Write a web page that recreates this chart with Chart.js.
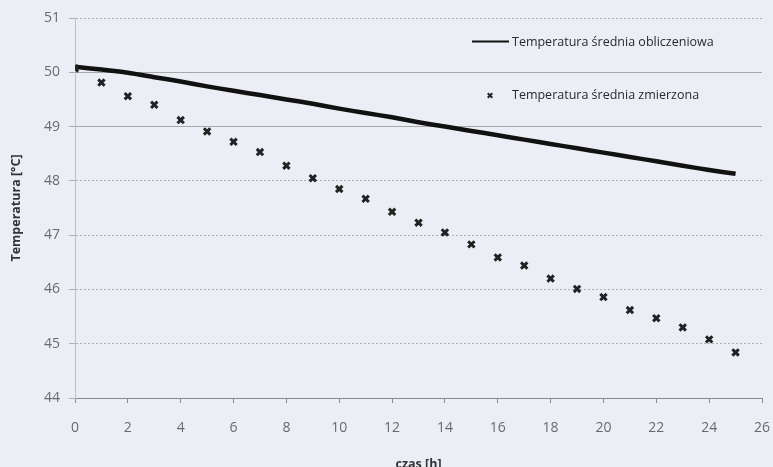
<!DOCTYPE html>
<html><head><meta charset="utf-8">
<script src="https://cdn.jsdelivr.net/npm/chart.js@4"></script>
<style>html,body{margin:0;padding:0;background:#eceef5}#wrap{width:773px;height:467px;position:relative}</style>
</head><body><div id="wrap"><canvas id="c" width="773" height="467"></canvas></div>
<script>
const hours = [0,1,2,3,4,5,6,7,8,9,10,11,12,13,14,15,16,17,18,19,20,21,22,23,24,25];
const calcTemp = [50.10,50.05,49.99,49.91,49.83,49.74,49.66,49.58,49.50,49.42,49.33,49.25,49.17,49.08,49.00,48.92,48.84,48.76,48.68,48.60,48.52,48.44,48.36,48.28,48.20,48.13];
const measTemp = [50.07,49.81,49.56,49.40,49.12,48.91,48.72,48.53,48.28,48.05,47.85,47.67,47.43,47.23,47.05,46.83,46.59,46.44,46.20,46.01,45.86,45.62,45.47,45.30,45.08,44.84];
const xTicks = [0,2,4,6,8,10,12,14,16,18,20,22,24,26];
const yTicks = [44,45,46,47,48,49,50,51];
const seriesNames = ['Temperatura średnia obliczeniowa','Temperatura średnia zmierzona'];
const xTitle = 'czas [h]';
const yTitle = 'Temperatura [°C]';

const FONT = 'Open Sans';
const legendPlugin = {
  id: 'inLegend',
  afterDraw(chart) {
    const ctx = chart.ctx;
    ctx.save();
    ctx.strokeStyle = '#111';
    ctx.lineWidth = 2;
    ctx.beginPath(); ctx.moveTo(472, 41.5); ctx.lineTo(509, 41.5); ctx.stroke();
    ctx.strokeStyle = '#222';
    Chart.helpers.drawPoint(ctx, {pointStyle: 'crossRot', radius: 3.2, borderWidth: 1.8}, 490, 95.5);
    ctx.fillStyle = '#2a2a2a';
    ctx.font = '12.5px "Open Sans"';
    ctx.textBaseline = 'middle';
    ctx.fillText(seriesNames[0], 512, 42);
    ctx.fillText(seriesNames[1], 512, 95);
    ctx.restore();
  }
};

new Chart(document.getElementById('c'), {
  type: 'scatter',
  data: {
    datasets: [
      { label: seriesNames[0], type: 'line', data: hours.map((h,i)=>({x:h,y:calcTemp[i]})),
        borderColor: '#111', borderWidth: 4.5, pointRadius: 0, tension: 0.3, fill: false, order: 1 },
      { label: seriesNames[1], data: hours.map((h,i)=>({x:h,y:measTemp[i]})),
        showLine: false, pointStyle: 'crossRot', pointRadius: 4.5, borderWidth: 3,
        borderColor: '#222', backgroundColor: '#222', order: 0 }
    ]
  },
  options: {
    responsive: false, animation: false, devicePixelRatio: 1,
    layout: { padding: { top: 18, right: 11, left: 0, bottom: 0 } },
    plugins: { legend: { display: false }, tooltip: { enabled: false } },
    scales: {
      x: {
        type: 'linear', min: 0, max: 26,
        afterBuildTicks: s => { s.ticks = xTicks.map(v => ({value: v})); },
        afterFit: s => { s.height = 69; s.paddingLeft = 0; s.paddingRight = 0; },
        grid: { drawOnChartArea: false, drawTicks: true, tickLength: 5, color: '#8a8a8a' },
        border: { display: true, color: '#8a8a8a', width: 1 },
        ticks: { color: '#6a6a6a', font: { family: FONT, size: 14 }, padding: 17, maxRotation: 0 },
        title: { display: true, text: xTitle, color: '#333', font: { family: FONT, size: 12.5, weight: 'bold' }, padding: { top: 0, bottom: -5 } }
      },
      y: {
        type: 'linear', min: 44, max: 51,
        afterBuildTicks: s => { s.ticks = yTicks.map(v => ({value: v})); },
        afterFit: s => { s.width = 75; s.paddingTop = 0; s.paddingBottom = 0; },
        grid: { drawTicks: true, tickLength: 6,
          color: ctx => (ctx.tick && (ctx.tick.value === 50 || ctx.tick.value === 49)) ? '#a8a8a8' : '#b0b0b0',
          lineWidth: 1 },
        border: { display: true, color: '#c0c0c0', width: 1,
          dash: ctx => (ctx.tick && (ctx.tick.value === 50 || ctx.tick.value === 49)) ? [] : [2, 2] },
        ticks: { color: '#6a6a6a', font: { family: FONT, size: 14 }, padding: 9 },
        title: { display: true, text: yTitle, color: '#333', font: { family: FONT, size: 12.5, weight: 'bold' }, padding: { top: 9, bottom: 0 } }
      }
    }
  },
  plugins: [legendPlugin]
});
</script></body></html>
